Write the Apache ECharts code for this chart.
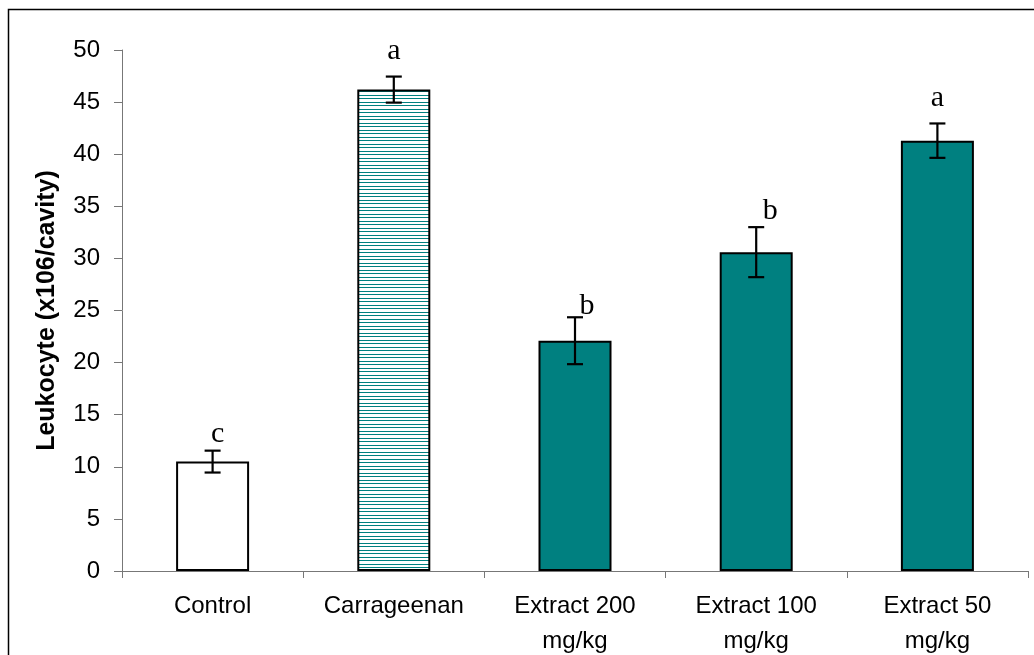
<!DOCTYPE html>
<html><head><meta charset="utf-8">
<script src="https://cdn.jsdelivr.net/npm/echarts@6/dist/echarts.min.js"></script>
<style>html,body{margin:0;padding:0;background:#fff}#c{width:1034px;height:655px}</style>
</head><body><div id="c"></div>
<script>
const categories = ['Control', 'Carrageenan', 'Extract 200\nmg/kg', 'Extract 100\nmg/kg', 'Extract 50\nmg/kg'];
const means = [10.5, 46.2, 22.1, 30.6, 41.3];
const errors = [1.05, 1.25, 2.25, 2.4, 1.65];
const letters = ['c', 'a', 'b', 'b', 'a'];
const letterY = [13.1, 49.9, 25.4, 34.5, 45.4];
const yMin = 0, yMax = 50, yStep = 5;

const letterDx = [5, 0, 12, 14, 0];
const teal = '#008080';

const pc = document.createElement('canvas');
pc.width = 8; pc.height = 7;
const pctx = pc.getContext('2d');
pctx.fillStyle = '#fff'; pctx.fillRect(0, 0, 8, 7);
pctx.fillStyle = teal; pctx.fillRect(0, 0, 8, 1); pctx.fillRect(0, 4, 8, 1);
const hatch = { image: pc, repeat: 'repeat' };

const fills = ['#ffffff', hatch, teal, teal, teal];

const chart = echarts.init(document.getElementById('c'), null, { renderer: 'canvas' });
chart.setOption({
  animation: false,
  backgroundColor: '#fff',
  grid: { left: 122, right: 6, top: 50, bottom: 84, containLabel: false, outerBoundsMode: 'none' },
  graphic: [{
    type: 'rect', shape: { x: 8.5, y: 9.5, width: 1100, height: 800 },
    style: { fill: 'none', stroke: '#000', lineWidth: 1.5 }, z: 100, silent: true
  }],
  xAxis: {
    type: 'category', data: categories,
    axisLine: { lineStyle: { color: '#777', width: 1 } },
    axisTick: { show: true, length: 7, lineStyle: { color: '#777' } },
    axisLabel: { color: '#000', fontFamily: 'Liberation Sans', fontSize: 24, lineHeight: 35, margin: 18, interval: 0 }
  },
  yAxis: {
    type: 'value', min: yMin, max: yMax, interval: yStep,
    name: 'Leukocyte (x106/cavity)', nameLocation: 'middle', nameRotate: 90, nameGap: 62,
    nameTextStyle: { color: '#000', fontFamily: 'Liberation Sans', fontSize: 25, fontWeight: 'bold' },
    splitLine: { show: false },
    axisLine: { show: true, lineStyle: { color: '#777', width: 1 } },
    axisTick: { show: true, length: 8, lineStyle: { color: '#777' } },
    axisLabel: { color: '#000', fontFamily: 'Liberation Sans', fontSize: 24, margin: 22 }
  },
  series: [{
    type: 'bar', barWidth: 73,
    data: means.map((v, i) => ({ value: v, itemStyle: { color: fills[i], borderColor: '#000', borderWidth: 2 } }))
  }, {
    type: 'custom', z: 10,
    data: means.map((v, i) => [i, v]),
    encode: { x: 0, y: 1 },
    renderItem(params, api) {
      const i = api.value(0);
      const top = api.coord([i, means[i] + errors[i]]);
      const bot = api.coord([i, means[i] - errors[i]]);
      const lt = api.coord([i, letterY[i]]);
      const cw = 8;
      const st = { stroke: '#000', lineWidth: 2.2 };
      return { type: 'group', children: [
        { type: 'line', shape: { x1: top[0], y1: top[1], x2: bot[0], y2: bot[1] }, style: st },
        { type: 'line', shape: { x1: top[0] - cw, y1: top[1], x2: top[0] + cw, y2: top[1] }, style: st },
        { type: 'line', shape: { x1: bot[0] - cw, y1: bot[1], x2: bot[0] + cw, y2: bot[1] }, style: st },
        { type: 'text', x: lt[0] + letterDx[i], y: lt[1], style: { text: letters[i], fontFamily: 'Liberation Serif', fontSize: 30, fill: '#000', align: 'center', verticalAlign: 'middle' } }
      ] };
    }
  }]
});
</script></body></html>
